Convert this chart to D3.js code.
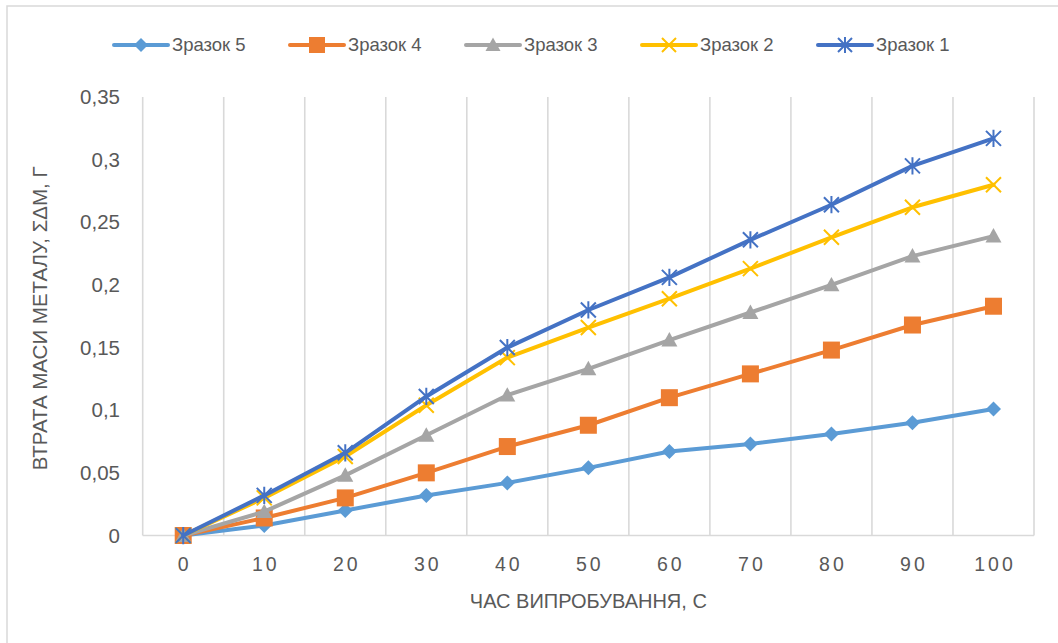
<!DOCTYPE html>
<html><head><meta charset="utf-8">
<script src="https://cdn.jsdelivr.net/npm/d3@7"></script>
<style>body{margin:0;background:#fff}svg{display:block}</style>
</head><body><svg id="c" width="1058" height="643"></svg>
<script>
const categories = [0,10,20,30,40,50,60,70,80,90,100];
const yTicks = [0,0.05,0.1,0.15,0.2,0.25,0.3,0.35];
const yTickLabels = ["0","0,05","0,1","0,15","0,2","0,25","0,3","0,35"];
const seriesNames = ["Зразок 5","Зразок 4","Зразок 3","Зразок 2","Зразок 1"];
const zrazok5 = [0,0.008,0.020,0.032,0.042,0.054,0.067,0.073,0.081,0.090,0.101];
const zrazok4 = [0,0.014,0.030,0.050,0.071,0.088,0.110,0.129,0.148,0.168,0.183];
const zrazok3 = [0,0.019,0.048,0.080,0.112,0.133,0.156,0.178,0.200,0.223,0.239];
const zrazok2 = [0,0.030,0.063,0.104,0.142,0.166,0.189,0.213,0.238,0.262,0.280];
const zrazok1 = [0,0.032,0.066,0.111,0.150,0.180,0.206,0.236,0.264,0.295,0.317];
const seriesValues = [zrazok5,zrazok4,zrazok3,zrazok2,zrazok1];
const colors = ["#5B9BD5","#ED7D31","#A5A5A5","#FFC000","#4472C4"];
const markers = ["diamond","square","triangle","x","star"];
const xTitle = "ЧАС ВИПРОБУВАННЯ, С";
const yTitle = "ВТРАТА МАСИ МЕТАЛУ, ΣΔМ, Г";

const svg = d3.select("#c");
const L=142.7, R=1034, T=97, B=535.5;
const FONT = "Liberation Sans, Arial, sans-serif";
svg.append("rect").attr("x",7).attr("y",6).attr("width",1080).attr("height",680)
  .attr("fill","#fff").attr("stroke","#D9D9D9").attr("stroke-width",1.5);

const x = d3.scaleBand().domain(categories).range([L,R]).padding(0);
const y = d3.scaleLinear().domain([0,0.35]).range([B,T]);
const cx = v => x(v)+x.bandwidth()/2;

// vertical gridlines at band edges
const edges = categories.map(c=>x(c)).concat([R]);
svg.append("g").selectAll("line").data(edges).join("line")
  .attr("x1",d=>d).attr("x2",d=>d).attr("y1",T).attr("y2",B)
  .attr("stroke","#D9D9D9").attr("stroke-width",1.6);
svg.append("line").attr("x1",L).attr("x2",R).attr("y1",B).attr("y2",B)
  .attr("stroke","#D9D9D9").attr("stroke-width",1.6);

// y tick labels
svg.append("g").selectAll("text").data(yTicks).join("text")
  .attr("x",120).attr("y",d=>y(d)).attr("dy","0.35em").attr("text-anchor","end")
  .attr("font-family",FONT).attr("font-size",20.5)
  .attr("fill","#595959").text((d,i)=>yTickLabels[i]);
// x tick labels
svg.append("g").selectAll("text").data(categories).join("text")
  .attr("x",d=>cx(d)+1.5).attr("y",571).attr("text-anchor","middle")
  .attr("font-family",FONT).attr("font-size",19.5)
  .attr("letter-spacing","3px").attr("fill","#595959").text(d=>d);

svg.append("text").attr("x",(L+R)/2).attr("y",608).attr("text-anchor","middle")
  .attr("font-family",FONT).attr("font-size",20)
  .attr("fill","#595959").text(xTitle);
svg.append("text").attr("transform",`translate(47,${(T+B)/2+2}) rotate(-90)`)
  .attr("text-anchor","middle")
  .attr("font-family",FONT).attr("font-size",20.5)
  .attr("fill","#595959").text(yTitle);

function drawMarker(g, type, color, px, py, s){
  const h=s/2;
  if(type==="diamond"){
    g.append("path").attr("d",`M${px},${py-h}L${px+h},${py}L${px},${py+h}L${px-h},${py}Z`).attr("fill",color);
  } else if(type==="square"){
    g.append("rect").attr("x",px-h).attr("y",py-h).attr("width",s).attr("height",s).attr("fill",color);
  } else if(type==="triangle"){
    g.append("path").attr("d",`M${px},${py-h}L${px+h},${py+h*0.8}L${px-h},${py+h*0.8}Z`).attr("fill",color);
  } else if(type==="x"){
    g.append("path").attr("d",`M${px-h},${py-h}L${px+h},${py+h}M${px-h},${py+h}L${px+h},${py-h}`)
      .attr("stroke",color).attr("stroke-width",2).attr("fill","none");
  } else if(type==="star"){
    g.append("path").attr("d",`M${px-h},${py-h}L${px+h},${py+h}M${px-h},${py+h}L${px+h},${py-h}M${px},${py-h*1.15}L${px},${py+h*1.15}`)
      .attr("stroke",color).attr("stroke-width",2).attr("fill","none");
  }
}
const msize = {diamond:15,square:17,triangle:16,x:15,star:15};
const line = d3.line().x((d,i)=>cx(categories[i])).y(d=>y(d));
seriesValues.forEach((vals,si)=>{
  const g = svg.append("g");
  g.append("path").attr("d",line(vals)).attr("fill","none").attr("stroke",colors[si])
    .attr("stroke-width",4).attr("stroke-linejoin","round").attr("stroke-linecap","round");
  vals.forEach((v,i)=>drawMarker(g,markers[si],colors[si],cx(categories[i]),y(v),msize[markers[si]]));
});

// legend
const lg = svg.append("g");
seriesNames.forEach((n,i)=>{
  const x0 = 114 + i*176, ly = 45;
  lg.append("line").attr("x1",x0).attr("x2",x0+54).attr("y1",ly).attr("y2",ly)
    .attr("stroke",colors[i]).attr("stroke-width",4).attr("stroke-linecap","round");
  drawMarker(lg,markers[i],colors[i],x0+27,ly,msize[markers[i]]-1);
  lg.append("text").attr("x",x0+58).attr("y",ly).attr("dy","0.35em")
    .attr("font-family",FONT).attr("font-size",18.5)
    .attr("fill","#595959").text(n);
});
</script></body></html>
